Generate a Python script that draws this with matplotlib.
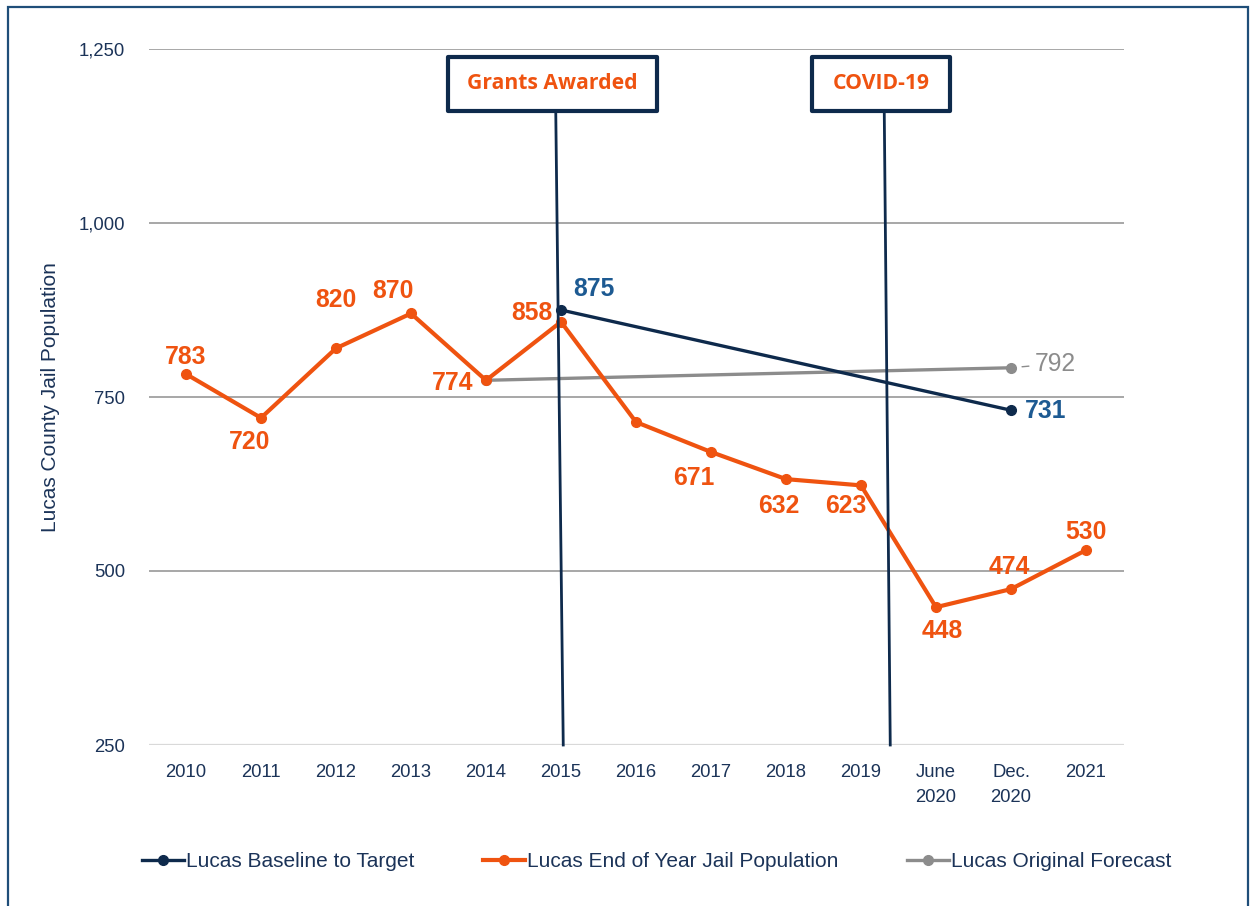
import matplotlib.pyplot as plt
from matplotlib.patches import Rectangle
from matplotlib.ticker import FuncFormatter

plt.rcParams['font.family'] = ['Liberation Sans', 'DejaVu Sans']

# data
categories = ['2010', '2011', '2012', '2013', '2014', '2015', '2016', '2017',
              '2018', '2019', 'June\n2020', 'Dec.\n2020', '2021']
jail_pop = [783, 720, 820, 870, 774, 858, 714, 671, 632, 623, 448, 474, 530]
jail_labels = ['783', '720', '820', '870', '774', '858', '', '671', '632', '623', '448', '474', '530']
baseline_idx = [5, 11]
baseline_vals = [875, 731]
forecast_idx = [4, 11]
forecast_vals = [774, 792]

orange = '#EF5310'
navy = '#0E2A4C'
blue_lbl = '#1D5A92'
gray = '#8C8C8C'
tick_col = '#1B3358'

fig = plt.figure(figsize=(12.53, 9.06), dpi=100)
ax = fig.add_axes([148.5 / 1253, 1 - 745 / 906, 975 / 1253, 696 / 906])

x = list(range(len(categories)))
ax.plot(baseline_idx, baseline_vals, color=navy, lw=2.4, marker='o', ms=7, zorder=4,
        label='Lucas Baseline to Target')
ax.plot(x, jail_pop, color=orange, lw=3, marker='o', ms=7, zorder=3,
        label='Lucas End of Year Jail Population')
ax.plot(forecast_idx, forecast_vals, color=gray, lw=2.4, marker='o', ms=7, zorder=2,
        label='Lucas Original Forecast')

ax.set_xlim(-0.5, len(categories) - 0.5)
ax.set_ylim(250, 1250)
ax.set_yticks([250, 500, 750, 1000, 1250])
ax.yaxis.set_major_formatter(FuncFormatter(lambda v, p: f'{int(v):,}'))
ax.set_xticks(x)
ax.set_xticklabels(categories, linespacing=1.6)
ax.tick_params(axis='both', length=0, colors=tick_col, labelsize=13.3)
ax.tick_params(axis='y', pad=17)
ax.tick_params(axis='x', pad=14)
for s in ax.spines.values():
    s.set_visible(False)
for v in [500, 750, 1000, 1250]:
    ax.axhline(v, color='#A0A0A0', lw=1.3, zorder=1)
ax.axhline(250, color='#D9D9D9', lw=1.6, zorder=1)

ax.set_ylabel('Lucas County Jail Population', fontsize=15, color=tick_col)
ax.yaxis.set_label_coords(-0.091, 0.5)

# data labels (offsets in pixels)
jail_off = [(0, 17), (-11, -24), (0, 48), (-18, 22), (-33, -3), (-29, 9), (0, 0),
            (-17, -26), (-7, -27), (-15, -21), (6, -24), (-2, 22), (0, 18)]
for i, (v, t) in enumerate(zip(jail_pop, jail_labels)):
    if t:
        ax.annotate(t, (i, v), xytext=jail_off[i], textcoords='offset pixels',
                    ha='center', va='center', fontsize=17.8, fontweight='bold',
                    color=orange, zorder=6)
ax.annotate(str(baseline_vals[0]), (baseline_idx[0], baseline_vals[0]), xytext=(33, 21),
            textcoords='offset pixels', ha='center', va='center', fontsize=17.8,
            fontweight='bold', color=blue_lbl)
ax.annotate(str(baseline_vals[1]), (baseline_idx[1], baseline_vals[1]), xytext=(35, -1),
            textcoords='offset pixels', ha='center', va='center', fontsize=17.8,
            fontweight='bold', color=blue_lbl)
ax.annotate(str(forecast_vals[1]), (forecast_idx[1], forecast_vals[1]), xytext=(44, 4),
            textcoords='offset pixels', ha='center', va='center', fontsize=17.8,
            color=gray, arrowprops=dict(arrowstyle='-', color=gray, lw=1,
                                        shrinkA=2, shrinkB=8))

# event lines and boxes
events = [('Grants Awarded', 4.93, 5.03, 4.88, 209), ('COVID-19', 9.31, 9.39, 9.27, 138)]
for name, xt, xb, xc, wpx in events:
    ax.plot([xt, xb], [1161, 250], color=navy, lw=2, clip_on=False, zorder=5)
    w = wpx / 75
    h = 54 / 0.696
    ax.add_patch(Rectangle((xc - w / 2, 1200 - h / 2), w, h, fill=True, fc='white',
                           ec=navy, lw=3, clip_on=False, zorder=6,
                           joinstyle='round'))
    ax.text(xc, 1200, name, ha='center', va='center', fontsize=15.2, fontweight='bold',
            color=orange, family=['Open Sans', 'DejaVu Sans'], zorder=7, clip_on=False)

fig.legend(loc='center', bbox_to_anchor=(0.524, 0.0486), ncol=3, frameon=False,
           fontsize=15, handlelength=2.0, handletextpad=0.1, columnspacing=3.3,
           labelcolor=tick_col)

# outer frame
fig.patches.append(Rectangle((8 / 1253, -0.02), 1240 / 1253, 1 - 7 / 906 + 0.02,
                             transform=fig.transFigure, fill=False, ec='#1F4E79', lw=1.6))

fig.savefig('out.png', dpi=100)
